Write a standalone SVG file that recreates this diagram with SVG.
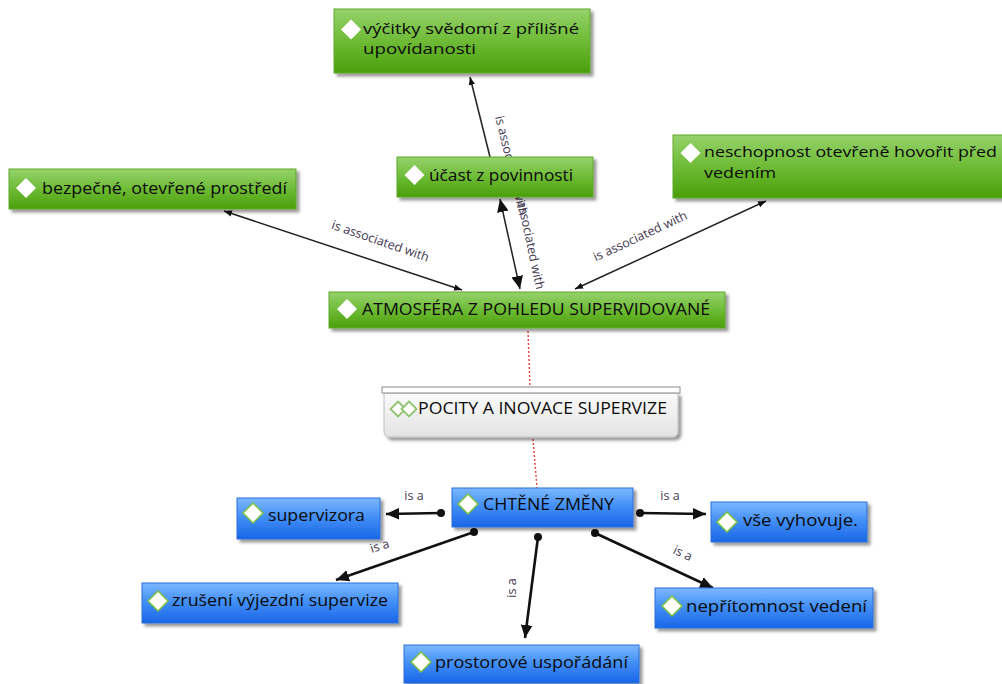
<svg xmlns="http://www.w3.org/2000/svg" width="1002" height="684" viewBox="0 0 1002 684">
  <defs>
    <linearGradient id="gGreen" x1="0" y1="0" x2="0" y2="1">
      <stop offset="0" stop-color="#96d26c"/>
      <stop offset="0.5" stop-color="#6ebb36"/>
      <stop offset="1" stop-color="#4a9f0a"/>
    </linearGradient>
    <linearGradient id="gBlue" x1="0" y1="0" x2="0" y2="1">
      <stop offset="0" stop-color="#7cb8ff"/>
      <stop offset="0.5" stop-color="#3f8cf6"/>
      <stop offset="1" stop-color="#1a66e6"/>
    </linearGradient>
    <linearGradient id="gMemo" x1="0" y1="0" x2="0" y2="1">
      <stop offset="0" stop-color="#fbfbfb"/>
      <stop offset="1" stop-color="#e2e2e2"/>
    </linearGradient>
    <filter id="shadow" x="-10%" y="-20%" width="125%" height="160%">
      <feDropShadow dx="3" dy="3" stdDeviation="1.4" flood-color="#000" flood-opacity="0.4"/>
    </filter>
    <marker id="arrS" viewBox="0 0 10 10" refX="10" refY="5" markerWidth="8" markerHeight="8" orient="auto-start-reverse" markerUnits="userSpaceOnUse">
      <path d="M0,1 L10,5 L0,9 Z" fill="#111"/>
    </marker>
    <marker id="arrL" viewBox="0 0 10 10" refX="10" refY="5" markerWidth="13" markerHeight="13" orient="auto-start-reverse" markerUnits="userSpaceOnUse">
      <path d="M0,0.5 L10,5 L0,9.5 Z" fill="#111"/>
    </marker>
    <marker id="dot" viewBox="0 0 10 10" refX="5" refY="5" markerWidth="8" markerHeight="8" markerUnits="userSpaceOnUse">
      <circle cx="5" cy="5" r="5" fill="#111"/>
    </marker>
    <path id="dia" d="M0,-10 L10,0 L0,10 L-10,0 Z"/>
  </defs>
  <style>
    .txt { font-family: "Open Sans", "Noto Sans", "DejaVu Sans", sans-serif; font-size: 15.5px; fill: #0a0a0a; }
    .txt2 { font-size: 14.5px; }
    .lbl { font-family: "Open Sans", "Noto Sans", "DejaVu Sans", sans-serif; font-size: 12.5px; fill: #43384f; }
    .green { fill: url(#gGreen); stroke: #5fa82c; stroke-width: 1; filter: url(#shadow); }
    .blue { fill: url(#gBlue); stroke: #2a6fd8; stroke-width: 1; filter: url(#shadow); }
    .dg { fill: #fff; }
    .db { fill: #fff; stroke: #7cc142; stroke-width: 1.5; }
    .link { stroke: #222; stroke-width: 1.5; fill: none; }
    .thick { stroke: #111; stroke-width: 2.6; fill: none; }
    .memoLine { stroke: #e8403c; stroke-width: 1.4; stroke-dasharray: 2 2; fill: none; }
  </style>

  <rect width="1002" height="684" fill="#fff"/>

  <!-- connectors and their labels -->
  <g id="connectors">
    <line class="link" x1="462" y1="290" x2="224" y2="211" marker-start="url(#arrS)" marker-end="url(#arrS)"/>
    <text class="lbl" x="379" y="245" text-anchor="middle" transform="rotate(19 379 245)">is associated with</text>

    <line class="link" x1="575" y1="289" x2="766" y2="201" marker-start="url(#arrS)" marker-end="url(#arrS)"/>
    <text class="lbl" x="642" y="240" text-anchor="middle" transform="rotate(-25 642 240)">is associated with</text>

    <line class="link" x1="490" y1="157" x2="470" y2="77" marker-end="url(#arrS)"/>
    <text class="lbl" x="495" y="117" transform="rotate(76 495 117)">is associated with</text>

    <line class="link" x1="500" y1="199" x2="520" y2="289" stroke-width="2" marker-start="url(#arrL)" marker-end="url(#arrL)"/>
    <text class="lbl" x="515" y="190" transform="rotate(78 515 190)">is associated with</text>

    <line class="memoLine" x1="528" y1="331" x2="530" y2="387"/>
    <line class="memoLine" x1="533" y1="439" x2="537" y2="488"/>

    <line class="thick" x1="441" y1="513" x2="386" y2="514" marker-start="url(#dot)" marker-end="url(#arrL)"/>
    <text class="lbl" x="414" y="500" text-anchor="middle">is a</text>

    <line class="thick" x1="474" y1="532" x2="336" y2="580" marker-start="url(#dot)" marker-end="url(#arrL)"/>
    <text class="lbl" x="381" y="550" text-anchor="middle" transform="rotate(-18 381 550)">is a</text>

    <line class="thick" x1="640" y1="513" x2="706" y2="514" marker-start="url(#dot)" marker-end="url(#arrL)"/>
    <text class="lbl" x="670" y="500" text-anchor="middle">is a</text>

    <line class="thick" x1="595" y1="533" x2="713" y2="588" marker-start="url(#dot)" marker-end="url(#arrL)"/>
    <text class="lbl" x="681" y="557" text-anchor="middle" transform="rotate(25 681 557)">is a</text>

    <line class="thick" x1="538" y1="537" x2="525" y2="638" marker-start="url(#dot)" marker-end="url(#arrL)"/>
    <text class="lbl" x="516" y="588" text-anchor="middle" transform="rotate(-90 516 588)">is a</text>
  </g>

  <!-- green nodes -->
  <g id="n-vycitky">
    <rect class="green" x="334" y="9" width="256" height="64"/>
    <use href="#dia" class="dg" x="351" y="29.5"/>
    <text class="txt txt2" x="363" y="34" textLength="216" lengthAdjust="spacingAndGlyphs">výčitky svědomí z přílišné</text>
    <text class="txt txt2" x="363" y="54" textLength="113" lengthAdjust="spacingAndGlyphs">upovídanosti</text>
  </g>

  <g id="n-ucast">
    <rect class="green" x="397" y="157" width="196" height="40"/>
    <use href="#dia" class="dg" x="414.5" y="175"/>
    <text class="txt" x="429" y="181" textLength="144" lengthAdjust="spacingAndGlyphs">účast z povinnosti</text>
  </g>

  <g id="n-bezpecne">
    <rect class="green" x="9" y="169" width="287" height="40"/>
    <use href="#dia" class="dg" x="26" y="188"/>
    <text class="txt" x="42" y="194" textLength="245" lengthAdjust="spacingAndGlyphs">bezpečné, otevřené prostředí</text>
  </g>

  <g id="n-neschopnost">
    <rect class="green" x="673" y="135" width="340" height="63"/>
    <use href="#dia" class="dg" x="690.5" y="153"/>
    <text class="txt txt2" x="704" y="157" textLength="293" lengthAdjust="spacingAndGlyphs">neschopnost otevřeně hovořit před</text>
    <text class="txt txt2" x="704" y="177.5" textLength="72" lengthAdjust="spacingAndGlyphs">vedením</text>
  </g>

  <g id="n-atmosfera">
    <rect class="green" x="329" y="292" width="396" height="36"/>
    <use href="#dia" class="dg" x="347" y="309"/>
    <text class="txt" x="362" y="315" textLength="348" lengthAdjust="spacingAndGlyphs">ATMOSFÉRA Z POHLEDU SUPERVIDOVANÉ</text>
  </g>

  <!-- memo -->
  <g id="memo-pocity">
    <path d="M384,393 H678 V431 Q678,437 672,437 H390 Q384,437 384,431 Z" fill="url(#gMemo)" stroke="#bdbdbd" stroke-width="1" filter="url(#shadow)"/>
    <rect x="382" y="387" width="298" height="6" fill="#fff" stroke="#8a8a8a" stroke-width="1"/>
    <path d="M398,401.5 L405.5,409 L398,416.5 L390.5,409 Z" fill="#fff" stroke="#8fc46f" stroke-width="1.8"/>
    <path d="M409,401.5 L416.5,409 L409,416.5 L401.5,409 Z" fill="#fff" stroke="#8fc46f" stroke-width="1.8"/>
    <text class="txt" x="418" y="414" textLength="249" lengthAdjust="spacingAndGlyphs">POCITY A INOVACE SUPERVIZE</text>
  </g>

  <!-- blue nodes -->
  <g id="n-chtene">
    <rect class="blue" x="452" y="488" width="181" height="39"/>
    <use href="#dia" class="db" x="468" y="504"/>
    <text class="txt" x="483" y="510" textLength="131" lengthAdjust="spacingAndGlyphs">CHTĚNÉ ZMĚNY</text>
  </g>

  <g id="n-supervizora">
    <rect class="blue" x="237" y="498" width="143" height="41"/>
    <use href="#dia" class="db" x="253" y="513"/>
    <text class="txt" x="268" y="521" textLength="97" lengthAdjust="spacingAndGlyphs">supervizora</text>
  </g>

  <g id="n-zruseni">
    <rect class="blue" x="142" y="583" width="256" height="40"/>
    <use href="#dia" class="db" x="158" y="601"/>
    <text class="txt" x="172" y="606" textLength="216" lengthAdjust="spacingAndGlyphs">zrušení výjezdní supervize</text>
  </g>

  <g id="n-vse">
    <rect class="blue" x="711" y="502" width="156" height="40"/>
    <use href="#dia" class="db" x="727" y="522"/>
    <text class="txt" x="743" y="526" textLength="115" lengthAdjust="spacingAndGlyphs">vše vyhovuje.</text>
  </g>

  <g id="n-nepritomnost">
    <rect class="blue" x="655" y="588" width="218" height="40"/>
    <use href="#dia" class="db" x="672" y="606"/>
    <text class="txt" x="686" y="612" textLength="181" lengthAdjust="spacingAndGlyphs">nepřítomnost vedení</text>
  </g>

  <g id="n-prostorove">
    <rect class="blue" x="404" y="645" width="235" height="38"/>
    <use href="#dia" class="db" x="421" y="662"/>
    <text class="txt" x="435" y="668" textLength="193" lengthAdjust="spacingAndGlyphs">prostorové uspořádání</text>
  </g>
</svg>
